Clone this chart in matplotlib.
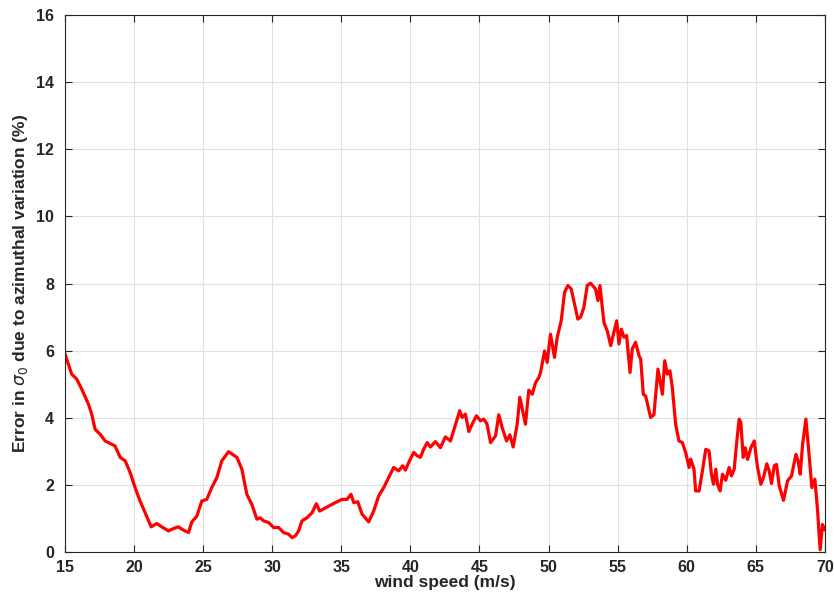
import matplotlib.pyplot as plt
import numpy as np

plt.rcParams['font.family'] = ['Liberation Sans', 'DejaVu Sans']
plt.rcParams['mathtext.fontset'] = 'dejavusans'

# wind speed (m/s)
wind = [15.0, 15.48, 15.85, 16.2, 16.69, 16.93, 17.17, 17.54, 17.9, 18.38,
        18.62, 18.99, 19.35, 19.71, 20.07, 20.43, 20.8, 21.23, 21.64, 22.0,
        22.49, 22.85, 23.2, 23.58, 23.94, 24.18, 24.54, 24.9, 25.26, 25.62,
        25.99, 26.35, 26.84, 27.44, 27.8, 28.16, 28.52, 28.89, 29.13, 29.37,
        29.74, 30.1, 30.46, 30.82, 31.19, 31.43, 31.67, 31.91, 32.15, 32.51,
        32.88, 33.19, 33.43, 33.96, 34.56, 35.05, 35.41, 35.7, 35.9, 36.19,
        36.5, 36.98, 37.34, 37.7, 38.07, 38.43, 38.79, 39.15, 39.44, 39.64,
        39.88, 40.24, 40.48, 40.72, 40.96, 41.21, 41.45, 41.81, 42.17, 42.53,
        42.9, 43.26, 43.57, 43.74, 43.98, 44.23, 44.47, 44.78, 45.07, 45.31,
        45.55, 45.8, 46.16, 46.4, 46.64, 46.96, 47.2, 47.44, 47.73, 47.92,
        48.33, 48.57, 48.82, 49.06, 49.3, 49.42, 49.71, 49.9, 50.14, 50.43,
        50.63, 50.92, 51.16, 51.4, 51.64, 51.88, 52.12, 52.32, 52.56, 52.8,
        53.04, 53.4, 53.58, 53.72, 54.01, 54.25, 54.5, 54.73, 54.93, 55.1,
        55.27, 55.46, 55.65, 55.9, 56.06, 56.3, 56.55, 56.67, 56.86, 57.03,
        57.39, 57.63, 57.92, 58.24, 58.41, 58.6, 58.79, 58.96, 59.2, 59.44,
        59.69, 59.93, 60.17, 60.29, 60.53, 60.65, 60.9, 61.14, 61.38, 61.62,
        61.79, 61.94, 62.11, 62.23, 62.42, 62.59, 62.83, 63.07, 63.24, 63.44,
        63.63, 63.8, 63.92, 64.09, 64.24, 64.41, 64.65, 64.89, 65.13, 65.37,
        65.56, 65.8, 65.97, 66.14, 66.34, 66.5, 66.7, 67.01, 67.3, 67.59,
        67.91, 68.07, 68.22, 68.39, 68.63, 68.87, 69.06, 69.28, 69.47, 69.66,
        69.83, 70.0]

# error in sigma_0 (%)
err = [5.9, 5.3, 5.15, 4.86, 4.41, 4.11, 3.66, 3.51, 3.31, 3.21,
       3.16, 2.82, 2.72, 2.37, 1.92, 1.52, 1.17, 0.75, 0.85, 0.75,
       0.63, 0.7, 0.75, 0.65, 0.58, 0.9, 1.07, 1.52, 1.57, 1.92,
       2.22, 2.72, 2.99, 2.82, 2.47, 1.72, 1.42, 0.98, 1.02, 0.93,
       0.88, 0.73, 0.73, 0.58, 0.53, 0.43, 0.48, 0.63, 0.93, 1.02,
       1.17, 1.44, 1.22, 1.34, 1.47, 1.57, 1.57, 1.72, 1.47, 1.5,
       1.13, 0.9, 1.22, 1.67, 1.92, 2.22, 2.52, 2.42, 2.57, 2.44,
       2.67, 2.97, 2.87, 2.82, 3.06, 3.26, 3.13, 3.29, 3.11, 3.43,
       3.31, 3.79, 4.21, 4.01, 4.11, 3.59, 3.81, 4.06, 3.91, 3.96,
       3.81, 3.26, 3.46, 4.09, 3.71, 3.31, 3.49, 3.13, 3.81, 4.61,
       3.81, 4.82, 4.7, 5.05, 5.2, 5.35, 5.99, 5.65, 6.49, 5.8,
       6.4, 6.9, 7.74, 7.94, 7.84, 7.39, 6.94, 7.0, 7.29, 7.94,
       8.01, 7.84, 7.49, 7.94, 6.84, 6.59, 6.15, 6.54, 6.89, 6.2,
       6.64, 6.4, 6.45, 5.35, 6.05, 6.25, 5.85, 5.75, 4.7, 4.65,
       4.01, 4.09, 5.45, 4.7, 5.7, 5.3, 5.4, 4.9, 3.81, 3.31,
       3.26, 2.96, 2.52, 2.77, 2.47, 1.82, 1.82, 2.42, 3.06, 3.01,
       2.32, 2.02, 2.47, 2.02, 1.82, 2.32, 2.14, 2.52, 2.27, 2.47,
       3.31, 3.96, 3.86, 2.82, 3.11, 2.76, 3.11, 3.31, 2.52, 2.02,
       2.22, 2.63, 2.42, 2.04, 2.57, 2.61, 1.97, 1.54, 2.12, 2.27,
       2.91, 2.71, 2.32, 3.21, 3.96, 2.86, 1.92, 2.17, 1.27, 0.07,
       0.82, 0.67]

fig = plt.figure(figsize=(8.34, 6.02), dpi=100)
ax = fig.add_axes([0.078, 0.083, 0.911, 0.892])

ax.plot(wind, err, color='#ff0000', linewidth=2.3)

ax.set_xlim(15, 70)
ax.set_ylim(0, 16)
ax.set_xticks(np.arange(15, 71, 5))
ax.set_yticks(np.arange(0, 17, 2))
ax.grid(True, color='#e0e0e0', linewidth=0.8)
ax.set_axisbelow(True)

ax.tick_params(direction='in', top=True, right=True, length=5,
               labelsize=11.5, colors='#262626', width=0.8)
ax.tick_params(axis='x', pad=6)
ax.tick_params(axis='y', pad=8)
for lab in ax.get_xticklabels() + ax.get_yticklabels():
    lab.set_fontweight('bold')
for sp in ax.spines.values():
    sp.set_color('#262626')
    sp.set_linewidth(0.8)

ax.set_xlabel('wind speed (m/s)', fontsize=12.5, fontweight='bold',
              color='#262626', labelpad=0)
ax.set_ylabel(r'Error in $\sigma_0$ due to azimuthal variation (%)',
              fontsize=12.5, fontweight='bold', color='#262626', labelpad=4)

fig.savefig('out.png', dpi=100)
